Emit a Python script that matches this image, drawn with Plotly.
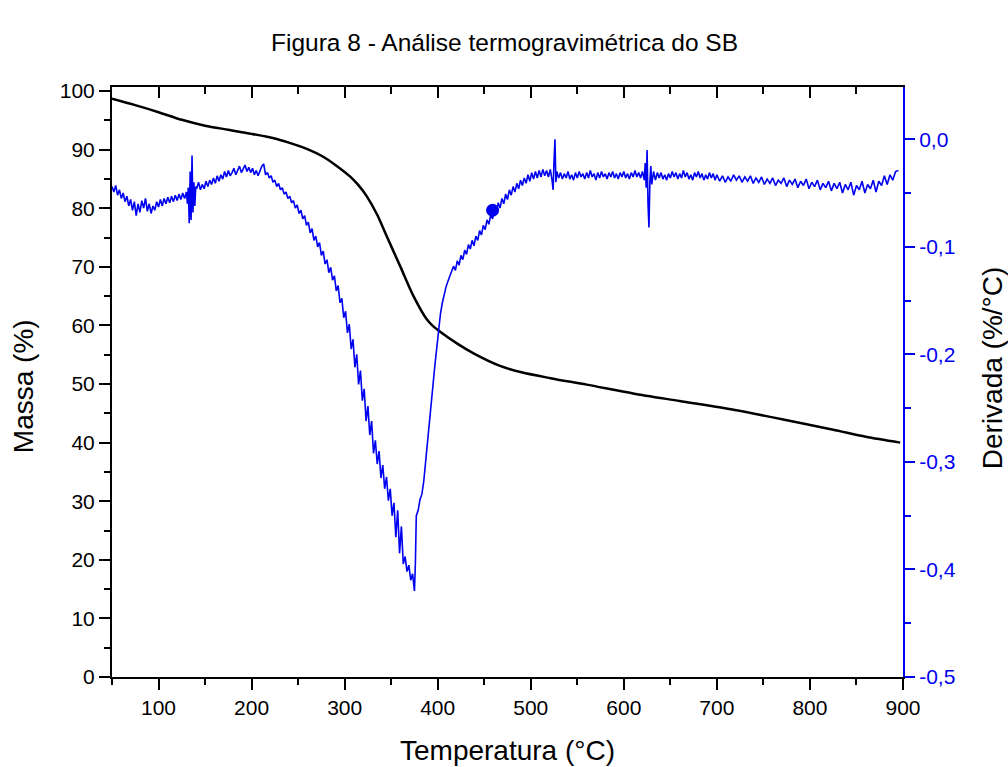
import plotly.graph_objects as go

# ---- Mass (TG) curve, left axis ----
mass_temp = [50, 75, 100, 125, 150, 175, 200, 225, 240, 260, 277, 290, 306, 315, 324, 335,
             345, 360, 374, 388, 395, 403, 421, 439, 467, 490, 521, 560, 610, 660, 718, 770, 825, 860, 897]
mass_value = [98.7, 97.6, 96.4, 95.1, 94.1, 93.4, 92.7, 91.9, 91.2, 90.1, 88.8, 87.4, 85.4, 83.9, 82.0, 78.9,
              75.3, 70.0, 65.0, 61.1, 59.9, 58.9, 56.9, 55.2, 53.1, 52.0, 51.0, 49.9, 48.4, 47.1, 45.6, 44.0, 42.2, 41.0, 40.0]

# ---- Derivative (DTG) curve, right axis ----
deriv_temp = [
    50, 52, 54, 56, 58, 60, 62, 64, 66, 68, 70, 72, 74, 76, 78, 80, 82, 84, 86, 88,
    90, 92, 94, 96, 98, 100, 102, 104, 106, 108, 110, 112, 114, 116, 118, 120, 122, 124, 126, 128,
    130, 131, 132, 133, 134, 135, 136, 137, 138, 139, 140, 141, 143, 145, 147, 149, 151, 153, 155, 157,
    159, 161, 163, 165, 167, 169, 171, 173, 175, 177, 179, 181, 183, 185, 187, 189, 191, 193, 195, 197,
    199, 201, 203, 205, 207, 209, 211, 213, 215, 217, 219, 221, 223, 225, 227, 229, 231, 233, 235, 237,
    239, 241, 243, 245, 247, 249, 251, 253, 255, 257, 259, 261, 263, 265, 267, 269, 271, 273, 275, 277,
    279, 281, 283, 285, 287, 289, 291, 293, 295, 297, 299, 301, 303, 305, 307, 309, 311, 313, 315, 317,
    319, 321, 323, 325, 327, 329, 331, 333, 335, 337, 339, 341, 343, 345, 347, 349, 351, 353, 355, 357,
    359, 361, 363, 365, 367, 369, 371, 373, 375, 376, 377, 379, 381, 383, 385, 387, 389, 391, 393, 395,
    397, 399, 401, 403, 405, 407, 409, 411, 413, 415, 417, 419, 421, 423, 425, 427, 429, 431, 433, 435,
    437, 439, 441, 443, 445, 447, 449, 451, 453, 455, 457, 459, 461, 463, 465, 467, 469, 471, 473, 475,
    477, 479, 481, 483, 485, 487, 489, 491, 493, 495, 497, 499, 501, 503, 505, 507, 509, 511, 513, 515,
    517, 519, 521, 523, 524, 525, 526, 527, 528, 530, 532, 534, 536, 538, 540, 542, 544, 546, 548, 550,
    552, 554, 556, 558, 560, 562, 564, 566, 568, 570, 572, 574, 576, 578, 580, 582, 584, 586, 588, 590,
    592, 594, 596, 598, 600, 602, 604, 606, 608, 610, 612, 614, 616, 618, 620, 622, 623, 624, 625, 626,
    627, 628, 629, 630, 632, 634, 636, 638, 640, 642, 644, 646, 648, 650, 652, 654, 656, 658, 660, 662,
    664, 666, 668, 670, 672, 674, 676, 678, 680, 682, 684, 686, 688, 690, 692, 694, 696, 698, 700, 703,
    706, 709, 712, 715, 718, 721, 724, 727, 730, 733, 736, 739, 742, 745, 748, 751, 754, 757, 760, 763,
    766, 769, 772, 775, 778, 781, 784, 787, 790, 793, 796, 799, 802, 805, 808, 811, 814, 817, 820, 823,
    826, 829, 832, 835, 838, 841, 844, 847, 850, 853, 856, 859, 862, 865, 868, 871, 874, 877, 880, 883,
    886, 889, 892, 895]
deriv_value = [
    -0.044, -0.049, -0.043, -0.052, -0.047, -0.055, -0.050, -0.058, -0.053, -0.062, -0.056, -0.066, -0.058, -0.071, -0.060, -0.068, -0.057, -0.064, -0.055, -0.067,
    -0.060, -0.069, -0.062, -0.066, -0.058, -0.063, -0.056, -0.062, -0.055, -0.060, -0.054, -0.059, -0.053, -0.058, -0.052, -0.057, -0.051, -0.056, -0.050, -0.055,
    -0.049, -0.060, -0.045, -0.078, -0.030, -0.075, -0.015, -0.068, -0.040, -0.062, -0.044, -0.046, -0.040, -0.047, -0.042, -0.046, -0.039, -0.044, -0.038, -0.042,
    -0.036, -0.041, -0.034, -0.039, -0.033, -0.037, -0.030, -0.035, -0.029, -0.034, -0.031, -0.027, -0.033, -0.028, -0.025, -0.031, -0.027, -0.024, -0.030, -0.026,
    -0.031, -0.027, -0.033, -0.029, -0.034, -0.030, -0.025, -0.023, -0.033, -0.031, -0.036, -0.034, -0.040, -0.038, -0.044, -0.041, -0.047, -0.045, -0.051, -0.049,
    -0.055, -0.053, -0.059, -0.057, -0.064, -0.061, -0.069, -0.066, -0.074, -0.071, -0.080, -0.077, -0.087, -0.083, -0.094, -0.090, -0.100, -0.096, -0.108, -0.104,
    -0.116, -0.112, -0.124, -0.119, -0.131, -0.127, -0.141, -0.136, -0.152, -0.148, -0.166, -0.160, -0.180, -0.172, -0.195, -0.186, -0.212, -0.200, -0.228, -0.215,
    -0.243, -0.232, -0.262, -0.248, -0.275, -0.262, -0.292, -0.280, -0.302, -0.290, -0.315, -0.303, -0.325, -0.314, -0.336, -0.325, -0.350, -0.338, -0.370, -0.345,
    -0.385, -0.360, -0.395, -0.388, -0.402, -0.396, -0.410, -0.404, -0.420, -0.395, -0.350, -0.345, -0.335, -0.330, -0.318, -0.300, -0.280, -0.262, -0.244, -0.228,
    -0.210, -0.192, -0.176, -0.162, -0.152, -0.144, -0.137, -0.132, -0.127, -0.124, -0.118, -0.122, -0.113, -0.117, -0.108, -0.112, -0.103, -0.107, -0.098, -0.102,
    -0.094, -0.099, -0.090, -0.094, -0.085, -0.089, -0.080, -0.084, -0.075, -0.079, -0.070, -0.074, -0.064, -0.069, -0.059, -0.064, -0.055, -0.060, -0.051, -0.056,
    -0.047, -0.052, -0.044, -0.049, -0.041, -0.046, -0.038, -0.043, -0.036, -0.041, -0.033, -0.039, -0.031, -0.037, -0.030, -0.036, -0.029, -0.035, -0.028, -0.034,
    -0.029, -0.035, -0.028, -0.039, -0.047, -0.020, 0.000, -0.040, -0.030, -0.036, -0.031, -0.037, -0.032, -0.036, -0.030, -0.037, -0.033, -0.038, -0.031, -0.036,
    -0.030, -0.035, -0.032, -0.037, -0.031, -0.036, -0.029, -0.035, -0.032, -0.038, -0.031, -0.036, -0.030, -0.035, -0.032, -0.037, -0.031, -0.035, -0.030, -0.036,
    -0.032, -0.037, -0.031, -0.035, -0.030, -0.036, -0.032, -0.037, -0.031, -0.035, -0.029, -0.035, -0.031, -0.036, -0.030, -0.038, -0.022, -0.045, -0.010, -0.060,
    -0.082, -0.040, -0.025, -0.042, -0.030, -0.038, -0.031, -0.036, -0.031, -0.037, -0.033, -0.038, -0.032, -0.036, -0.030, -0.035, -0.031, -0.037, -0.032, -0.036,
    -0.029, -0.035, -0.031, -0.037, -0.033, -0.038, -0.031, -0.035, -0.030, -0.036, -0.032, -0.038, -0.033, -0.037, -0.031, -0.036, -0.032, -0.038, -0.033, -0.039,
    -0.034, -0.040, -0.035, -0.039, -0.033, -0.038, -0.034, -0.040, -0.035, -0.039, -0.034, -0.041, -0.036, -0.040, -0.035, -0.042, -0.037, -0.041, -0.036, -0.043,
    -0.038, -0.041, -0.036, -0.044, -0.038, -0.042, -0.037, -0.045, -0.039, -0.043, -0.037, -0.046, -0.040, -0.044, -0.038, -0.047, -0.041, -0.045, -0.039, -0.048,
    -0.041, -0.046, -0.040, -0.050, -0.042, -0.047, -0.040, -0.052, -0.043, -0.047, -0.039, -0.050, -0.042, -0.046, -0.038, -0.049, -0.039, -0.043, -0.034, -0.042,
    -0.033, -0.038, -0.030, -0.029]

marker_temp = [459]
marker_value = [-0.066]

x_ticks = [100, 200, 300, 400, 500, 600, 700, 800, 900]
left_ticks = [0, 10, 20, 30, 40, 50, 60, 70, 80, 90, 100]
right_ticks = [-0.5, -0.4, -0.3, -0.2, -0.1, 0.0]
right_ticklabels = ["-0,5", "-0,4", "-0,3", "-0,2", "-0,1", "0,0"]

title_text = "Figura 8 - Análise termogravimétrica do SB"
x_title = "Temperatura (°C)"
y_title = "Massa (%)"
y2_title = "Derivada (%/°C)"

FONT = "Liberation Sans, Arial, sans-serif"
BLUE = "#0000F0"

fig = go.Figure()
fig.add_trace(go.Scatter(x=mass_temp, y=mass_value, mode="lines",
                         line=dict(color="black", width=2.5, shape="spline", smoothing=0.8),
                         xaxis="x", yaxis="y", showlegend=False, hoverinfo="skip"))
fig.add_trace(go.Scatter(x=deriv_temp, y=deriv_value, mode="lines",
                         line=dict(color=BLUE, width=1.6),
                         xaxis="x2", yaxis="y2", showlegend=False, hoverinfo="skip"))
fig.add_trace(go.Scatter(x=marker_temp, y=marker_value, mode="markers",
                         marker=dict(color=BLUE, size=13, symbol="circle"),
                         xaxis="x2", yaxis="y2", showlegend=False, hoverinfo="skip"))

tickfont = dict(family=FONT, size=21, color="black")

fig.update_layout(
    width=1008, height=767,
    margin=dict(l=112, r=105, t=87, b=90),
    paper_bgcolor="white", plot_bgcolor="white",
    font=dict(family=FONT, color="black"),
    xaxis=dict(range=[50, 900], tickvals=x_ticks, ticks="outside", ticklen=11, tickwidth=2,
               tickcolor="black", showline=True, linecolor="black", linewidth=2,
               showgrid=False, zeroline=False, tickfont=tickfont,
               minor=dict(dtick=50, tick0=50, ticks="outside", ticklen=6, tickwidth=2, tickcolor="black", showgrid=False)),
    xaxis2=dict(range=[50, 900], overlaying="x", side="top", anchor="y", tickvals=x_ticks, ticks="inside",
                ticklen=11, tickwidth=2, tickcolor="black", showline=True, linecolor="black", linewidth=2,
                showgrid=False, zeroline=False, showticklabels=False,
                minor=dict(dtick=50, tick0=50, ticks="inside", ticklen=7, tickwidth=2, tickcolor="black", showgrid=False)),
    yaxis=dict(range=[0, 100.7], tickvals=left_ticks, ticks="outside", ticklen=11, tickwidth=2,
               tickcolor="black", showline=True, linecolor="black", linewidth=2,
               showgrid=False, zeroline=False, tickfont=tickfont,
               minor=dict(dtick=5, tick0=0, ticks="outside", ticklen=6, tickwidth=2, tickcolor="black", showgrid=False)),
    yaxis2=dict(range=[-0.5, 0.0486], overlaying="y", side="right", anchor="x2",
                tickvals=right_ticks, ticktext=right_ticklabels, ticks="outside", ticklen=10, tickwidth=2,
                tickcolor=BLUE, showline=True, linecolor=BLUE, linewidth=2,
                showgrid=False, zeroline=False, tickfont=dict(family=FONT, size=21, color=BLUE),
                minor=dict(dtick=0.05, tick0=0, ticks="outside", ticklen=6, tickwidth=2, tickcolor=BLUE, showgrid=False)),
    annotations=[
        dict(text=title_text, xref="paper", yref="paper", x=0.4956, y=1.076, xanchor="center", yanchor="middle",
             showarrow=False, font=dict(family=FONT, size=24.5, color="black")),
        dict(text=x_title, xref="paper", yref="paper", x=0.5, y=-0.1254, xanchor="center", yanchor="middle",
             showarrow=False, font=dict(family=FONT, size=28, color="black")),
        dict(text=y_title, xref="paper", yref="paper", x=-0.1125, y=0.493, xanchor="center", yanchor="middle",
             textangle=-90, showarrow=False, font=dict(family=FONT, size=28, color="black")),
        dict(text=y2_title, xref="paper", yref="paper", x=1.1125, y=0.525, xanchor="center", yanchor="middle",
             textangle=-90, showarrow=False, font=dict(family=FONT, size=28, color="black")),
    ],
)

# remove the default 8px page margin so the 1008x767 figure fills the window exactly
fig.write_html("out.html", config={"displayModeBar": False},
               post_script="document.body.style.margin='0';document.body.style.overflow='hidden';")
